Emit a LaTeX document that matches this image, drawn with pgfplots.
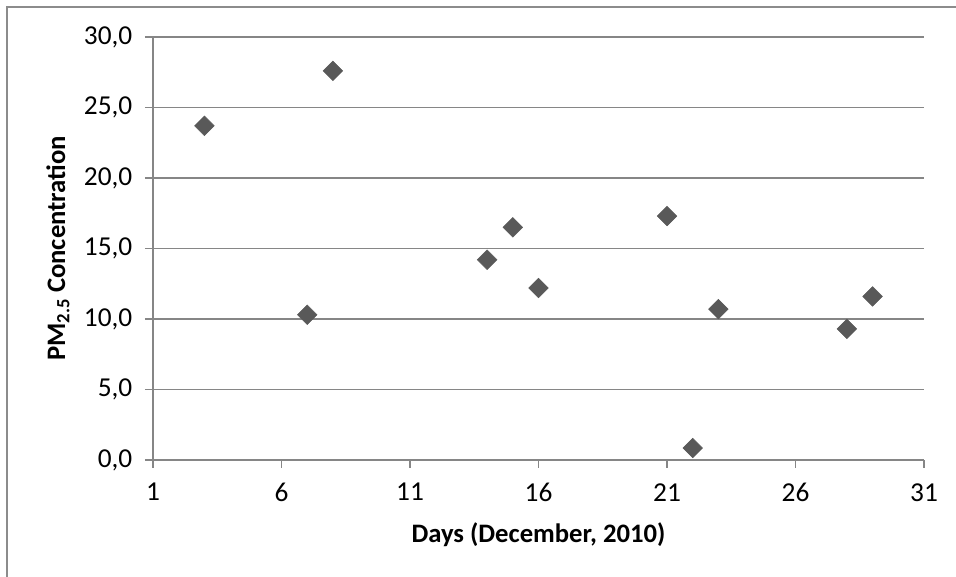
\documentclass[border=0pt]{standalone}
\usepackage{pgfplots}
\pgfplotsset{compat=1.18}
\usepackage{fontspec}
\setmainfont{Carlito}
\definecolor{gridgray}{HTML}{868686}
\definecolor{markgray}{HTML}{595959}
\definecolor{framegray}{HTML}{8C8C8C}
\begin{document}
\begin{tikzpicture}
\begin{axis}[
  at={(0pt,0pt)}, anchor=south west,
  scale only axis,
  width=578.25pt, height=317.25pt,
  xmin=1, xmax=31, ymin=0, ymax=30,
  xtick={1,6,11,16,21,26,31},
  ytick={0,5,10,15,20,25,30},
  axis x line=bottom, axis y line=left,
  axis line style={-, draw=gridgray, line width=0.9pt},
  ymajorgrids, grid style={draw=gridgray, line width=0.9pt},
  tick align=outside, major tick length=6pt,
  tick style={draw=gridgray, line width=0.9pt},
  /pgf/number format/assume math mode=true,
  yticklabel style={/pgf/number format/fixed, /pgf/number format/fixed zerofill, /pgf/number format/precision=1, /pgf/number format/use comma},
  ticklabel style={font=\fontsize{20.5}{24}\selectfont},
  xticklabel style={yshift=-8pt},
  yticklabel style={xshift=-6pt},
  every axis y label/.style={at={(axis description cs:-0.1232,0.5)}, rotate=90, anchor=center},
  every axis x label/.style={at={(axis description cs:0.5,-0.1939)}, anchor=base},
  label style={font=\fontsize{20}{24}\selectfont\bfseries},
  ylabel={PM\textsubscript{2.5} Concentration},
  xlabel={Days (December, 2010)},
  clip=false,
]
\addplot[only marks, mark=square*, mark size=5.2pt, mark options={rotate=45, fill=markgray, draw=markgray}] coordinates {
(3,23.7) (7,10.3) (8,27.6) (14,14.2) (15,16.5) (16,12.2) (21,17.3) (22,0.85) (23,10.7) (28,9.3) (29,11.6)
};
\end{axis}
\draw[framegray, line width=1.1pt] (-109.5pt,-87.75pt) -- (-109.5pt,339.75pt) -- (602.25pt,339.75pt);
\pgfresetboundingbox
\useasboundingbox (-114.75pt,-87.75pt) rectangle (602.25pt,345pt);
\end{tikzpicture}
\end{document}
